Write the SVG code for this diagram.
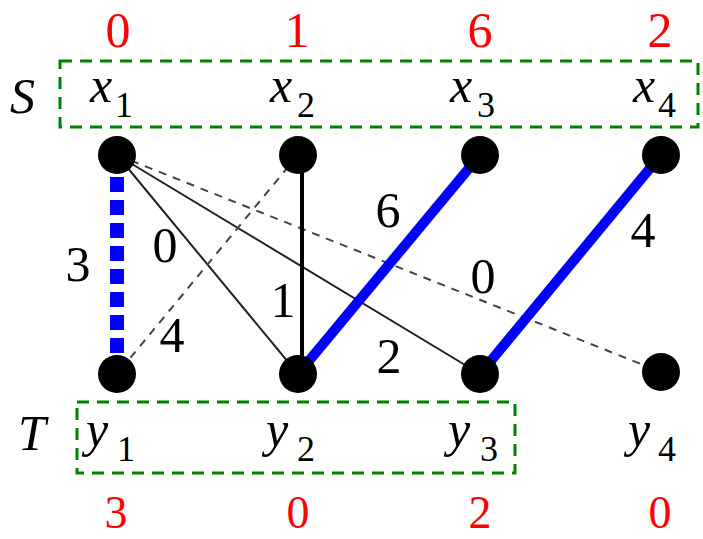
<svg xmlns="http://www.w3.org/2000/svg" width="703" height="539" viewBox="0 0 703 539">
<style>
.num{font-family:"Liberation Serif",serif;font-size:50px;fill:#ff0000;text-anchor:middle}
.numb{font-family:"Liberation Serif",serif;font-size:46px;fill:#ff0000;text-anchor:middle}
.lab{font-family:"Liberation Serif",serif;font-size:50px;fill:#000;text-anchor:middle}
.var{font-family:"Liberation Serif",serif;font-size:50px;font-style:italic;fill:#000}
.sub{font-family:"Liberation Serif",serif;font-size:36px;fill:#000}
.box{fill:none;stroke:#008000;stroke-width:3;stroke-dasharray:12 8}
.thin{stroke:#222;stroke-width:2;fill:none}
.dash{stroke:#444;stroke-width:2;stroke-dasharray:8 7;fill:none}
.match{stroke:#0000ff;stroke-width:10;fill:none}
.node{fill:#000}
</style>
<rect width="703" height="539" fill="#fff"/>
<g id="sets">
<rect class="box" x="60" y="61" width="638" height="66"/>
<rect class="box" x="77" y="402" width="438" height="71"/>
<text class="var" x="10" y="113">S</text>
<text class="var" x="18" y="450">T</text>
</g>
<g id="connectors">
<line class="thin" x1="117" y1="155" x2="298" y2="374"/>
<line class="thin" x1="117" y1="155" x2="480" y2="374"/>
<line class="dash" x1="117" y1="155" x2="661" y2="372"/>
<line class="dash" x1="298" y1="155" x2="117" y2="374"/>
<line stroke="#000" stroke-width="4" x1="302" y1="155" x2="302" y2="374"/>
<line stroke="#0000ff" stroke-width="14" stroke-dasharray="15 8" x1="117" y1="177" x2="117" y2="357"/>
<line class="match" x1="480" y1="155" x2="298" y2="374"/>
<line class="match" x1="661" y1="155" x2="480" y2="374"/>
<text class="lab" x="78" y="281">3</text>
<text class="lab" x="165" y="262">0</text>
<text class="lab" x="283" y="317">1</text>
<text class="lab" x="172" y="352">4</text>
<text class="lab" x="388" y="227">6</text>
<text class="lab" x="389" y="373">2</text>
<text class="lab" x="483" y="293">0</text>
<text class="lab" x="643" y="247">4</text>
</g>
<g id="x1">
<text class="num" x="118" y="47">0</text>
<text class="var" x="90" y="102">x</text><text class="sub" x="115" y="117">1</text>
<circle class="node" cx="117" cy="155" r="19"/>
</g>
<g id="x2">
<text class="num" x="297" y="47">1</text>
<text class="var" x="270" y="102">x</text><text class="sub" x="297" y="117">2</text>
<circle class="node" cx="298" cy="155" r="19"/>
</g>
<g id="x3">
<text class="num" x="480" y="47">6</text>
<text class="var" x="450" y="102">x</text><text class="sub" x="477" y="117">3</text>
<circle class="node" cx="480" cy="155" r="19"/>
</g>
<g id="x4">
<text class="num" x="660" y="47">2</text>
<text class="var" x="633" y="102">x</text><text class="sub" x="658" y="117">4</text>
<circle class="node" cx="661" cy="155" r="19"/>
</g>
<g id="y1">
<circle class="node" cx="117" cy="374" r="19"/>
<text class="var" x="86" y="446">y</text><text class="sub" x="117" y="461">1</text>
<text class="numb" x="116" y="528">3</text>
</g>
<g id="y2">
<circle class="node" cx="298" cy="374" r="19"/>
<text class="var" x="266" y="446">y</text><text class="sub" x="297" y="461">2</text>
<text class="numb" x="298" y="528">0</text>
</g>
<g id="y3">
<circle class="node" cx="480" cy="374" r="19"/>
<text class="var" x="448" y="446">y</text><text class="sub" x="480" y="461">3</text>
<text class="numb" x="480" y="528">2</text>
</g>
<g id="y4">
<circle class="node" cx="661" cy="372" r="19"/>
<text class="var" x="628" y="446">y</text><text class="sub" x="658" y="461">4</text>
<text class="numb" x="660" y="528">0</text>
</g>
</svg>
